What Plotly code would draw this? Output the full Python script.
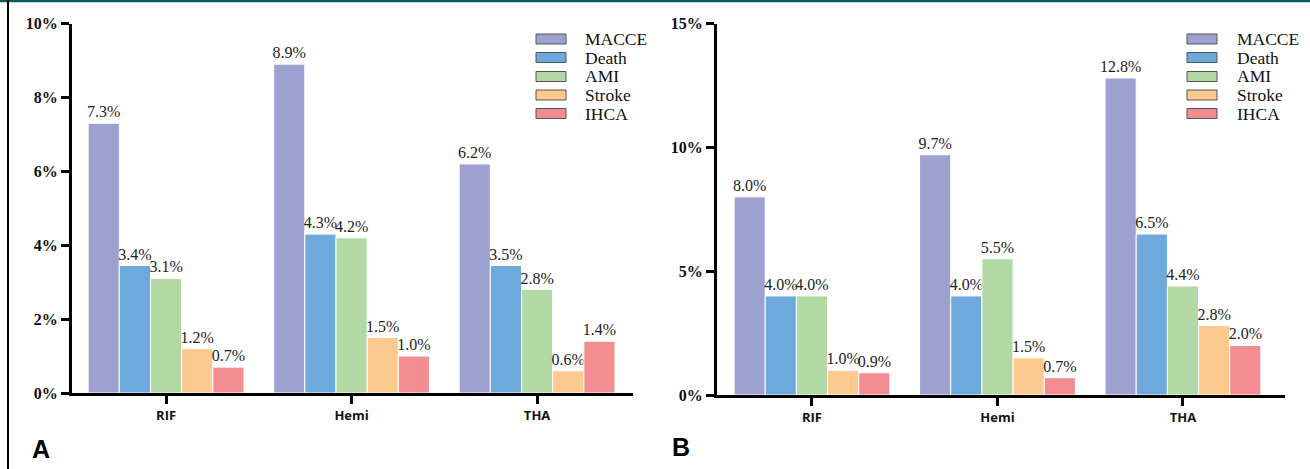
import plotly.graph_objects as go

categories = ["RIF", "Hemi", "THA"]
series_names = ["MACCE", "Death", "AMI", "Stroke", "IHCA"]
series_colors = ["#9da1d0", "#6ea9dc", "#b2d9a3", "#fcc98f", "#f28c90"]

# Panel A values (%), per series across categories
a_macce = [7.3, 8.9, 6.2]
a_death = [3.45, 4.3, 3.45]
a_ami = [3.1, 4.2, 2.8]
a_stroke = [1.2, 1.5, 0.6]
a_ihca = [0.7, 1.0, 1.4]
a_labels = [["7.3%", "8.9%", "6.2%"], ["3.4%", "4.3%", "3.5%"], ["3.1%", "4.2%", "2.8%"],
            ["1.2%", "1.5%", "0.6%"], ["0.7%", "1.0%", "1.4%"]]

# Panel B values (%)
b_macce = [8.0, 9.7, 12.8]
b_death = [4.0, 4.0, 6.5]
b_ami = [4.0, 5.5, 4.4]
b_stroke = [1.0, 1.5, 2.8]
b_ihca = [0.9, 0.7, 2.0]
b_labels = [["8.0%", "9.7%", "12.8%"], ["4.0%", "4.0%", "6.5%"], ["4.0%", "5.5%", "4.4%"],
            ["1.0%", "1.5%", "2.8%"], ["0.9%", "0.7%", "2.0%"]]

a_ticks = [0, 2, 4, 6, 8, 10]
a_ticktext = ["0%", "2%", "4%", "6%", "8%", "10%"]
b_ticks = [0, 5, 10, 15]
b_ticktext = ["0%", "5%", "10%", "15%"]
panel_letters = ["A", "B"]

a_series = [a_macce, a_death, a_ami, a_stroke, a_ihca]
b_series = [b_macce, b_death, b_ami, b_stroke, b_ihca]

fig = go.Figure()
label_font = dict(family="Liberation Serif, Times New Roman, serif", size=16, color="#222")

for i, name in enumerate(series_names):
    fig.add_trace(go.Bar(
        x=categories, y=a_series[i], name=name, xaxis="x", yaxis="y",
        marker=dict(color=series_colors[i], line=dict(color="white", width=1)),
        text=a_labels[i], textposition="outside", textfont=label_font,
        constraintext="none", cliponaxis=False, showlegend=False,
        offsetgroup=str(i),
    ))
for i, name in enumerate(series_names):
    fig.add_trace(go.Bar(
        x=categories, y=b_series[i], name=name, xaxis="x2", yaxis="y2",
        marker=dict(color=series_colors[i], line=dict(color="white", width=1)),
        text=b_labels[i], textposition="outside", textfont=label_font,
        constraintext="none", cliponaxis=False, showlegend=False,
        offsetgroup=str(i),
    ))

W, H = 1310, 469
def px(x):
    return x / W
def py(y):
    return (H - y) / H

ytick_font = dict(family="Liberation Serif, Times New Roman, serif", size=16,
                  color="#111", weight="bold")
cat_font = dict(family="Open Sans, Liberation Sans, Arial, sans-serif", size=13,
                color="#111", weight="bold")

xcommon = dict(type="category", showline=True, linewidth=3, linecolor="black",
               ticks="outside", ticklen=8, tickwidth=3, tickcolor="black",
               showgrid=False, zeroline=False, tickfont=cat_font, ticklabelstandoff=0,
               automargin=False)
ycommon = dict(showline=True, linewidth=3, linecolor="black",
               ticks="outside", ticklen=8, tickwidth=3, tickcolor="black",
               showgrid=False, zeroline=False, tickfont=ytick_font, automargin=False)

fig.update_layout(
    width=W, height=H, autosize=False,
    margin=dict(l=0, r=0, t=0, b=0, pad=0),
    paper_bgcolor="white", plot_bgcolor="white",
    barmode="group", bargap=0.16, bargroupgap=0,
    xaxis=dict(domain=[px(72), px(633)], range=[-0.507, 2.517], anchor="y", **xcommon),
    yaxis=dict(domain=[py(393), py(23.5)], range=[0, 10], anchor="x",
               tickvals=a_ticks, ticktext=a_ticktext, **ycommon),
    xaxis2=dict(domain=[px(717), px(1285)], range=[-0.512, 2.55], anchor="y2", **xcommon),
    yaxis2=dict(domain=[py(395), py(23.5)], range=[0, 15], anchor="x2",
                tickvals=b_ticks, ticktext=b_ticktext, **ycommon),
)

shapes = []
annotations = []
# frame lines
shapes.append(dict(type="line", xref="paper", yref="paper", x0=0, x1=1, y0=py(1), y1=py(1),
                   line=dict(color="#0e5a57", width=2.5)))
shapes.append(dict(type="line", xref="paper", yref="paper", x0=px(8), x1=px(8), y0=0, y1=1,
                   line=dict(color="black", width=2)))

# custom legends
legend_rows = [39, 57.5, 76.5, 95, 113.5]
for (sx0, tx) in [(536, 583), (1187, 1235)]:
    for i, name in enumerate(series_names):
        yc = legend_rows[i]
        shapes.append(dict(type="rect", xref="paper", yref="paper",
                           x0=px(sx0), x1=px(sx0 + 30), y0=py(yc + 5), y1=py(yc - 5),
                           fillcolor=series_colors[i], line=dict(color="#555", width=1)))
        annotations.append(dict(xref="paper", yref="paper", x=px(tx), y=py(yc),
                                xanchor="left", yanchor="middle", text=name, showarrow=False,
                                font=dict(family="Liberation Serif, Times New Roman, serif",
                                          size=17.5, color="#111")))

# panel letters
for letter, (lx, ly) in zip(panel_letters, [(30, 449), (670, 447)]):
    annotations.append(dict(xref="paper", yref="paper", x=px(lx), y=py(ly), xanchor="left",
                            yanchor="middle", text="<b>%s</b>" % letter, showarrow=False,
                            font=dict(family="Liberation Sans, Arial, sans-serif", size=25,
                                      color="black")))

fig.update_layout(shapes=shapes, annotations=annotations)
fig.write_html("out.html", config={"displayModeBar": False},
               post_script="document.body.style.margin='0';document.body.style.overflow='hidden';")
